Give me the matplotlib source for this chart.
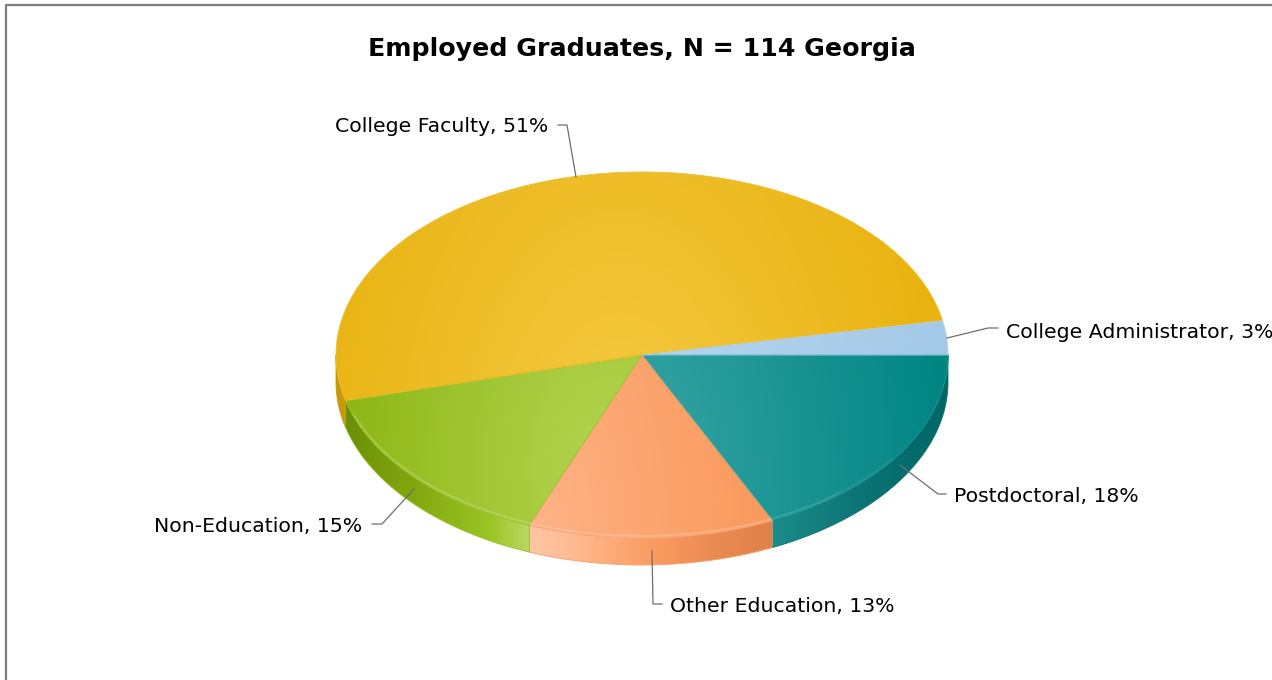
import numpy as np
import matplotlib
matplotlib.use("Agg")
import matplotlib.pyplot as plt
from matplotlib.colors import to_rgb
from matplotlib.patches import Polygon
from matplotlib.transforms import Affine2D

# Data, in drawing order (clockwise from 3 o'clock)
categories = ["Postdoctoral", "Other Education", "Non-Education", "College Faculty", "College Administrator"]
shares = [18, 13, 15, 51, 3]
title = "Employed Graduates, N = 114 Georgia"

# Top face colours: light (middle) and dark (rim)
light_colors = ["#3ba7a7", "#ffb68c", "#b4d552", "#f5ca44", "#b9d8f3"]
dark_colors = ["#008583", "#f9985a", "#84ae04", "#e8b20e", "#a4c9e8"]

# Gradient centre and reach for each top face (x, y, rx, ry in pixels)
gradients = [
    (610, 470, 340, 520),
    (500, 540, 280, 500),
    (610, 470, 340, 520),
    (620, 470, 340, 560),
    (610, 470, 340, 520),
]

# Side wall colour stops along x
wall_stops = [
    [(773, "#1c8c8a"), (860, "#0c7474"), (948, "#006666")],
    [(529, "#ffc6a2"), (565, "#ffbd96"), (650, "#fb9d62"), (700, "#ee8e56"), (773, "#de8048")],
    [(346, "#6b8f06"), (420, "#84aa10"), (490, "#9cc424"), (529, "#bad864")],
    [(337, "#c4960a"), (346, "#c99a0c")],
]

# Pie geometry in pixels
cx, cy = 642, 355
rx, ry = 306, 183
depth = 27

fig = plt.figure(figsize=(12.72, 6.8), dpi=100)
ax = fig.add_axes([0, 0, 1, 1])

wedges, _ = ax.pie(shares, startangle=0, counterclock=True, radius=1, center=(0, 0),
                   wedgeprops={"linewidth": 0})
ax.set_aspect("auto")
ax.set_xlim(0, 1272)
ax.set_ylim(680, 0)
ax.axis("off")

squash = Affine2D().scale(rx, ry).translate(cx, cy) + ax.transData
xx, yy = np.meshgrid(np.arange(1272) + 0.5, np.arange(680) + 0.5)

edges = np.cumsum([0] + shares) * 3.6


def arc(a, b):
    t = np.radians(np.linspace(a, b, 120))
    return cx + rx * np.cos(t), cy + ry * np.sin(t)


# side walls first
for i, stops in enumerate(wall_stops):
    a, b = edges[i], min(edges[i + 1], 180)
    x, y = arc(a, b)
    pts = np.r_[np.c_[x, y], np.c_[x[::-1], y[::-1] + depth]]
    xs = [s[0] for s in stops]
    cols = np.array([to_rgb(s[1]) for s in stops])
    img = np.dstack([np.interp(xx, xs, cols[:, k]) for k in range(3)])
    wall = Polygon(pts, closed=True, transform=ax.transData, fc="none", ec="none")
    ax.add_patch(wall)
    im = ax.imshow(img, extent=(0, 1272, 680, 0), aspect="auto", zorder=1)
    im.set_clip_path(wall)
    ax.add_patch(Polygon(pts, closed=True, fc="none", ec=cols[len(cols) // 2], lw=0.6, zorder=1.5))

# top faces
for w, lc, dc, g in zip(wedges, light_colors, dark_colors, gradients):
    w.set_transform(squash)
    lc, dc = np.array(to_rgb(lc)), np.array(to_rgb(dc))
    grad = np.clip(np.sqrt(((xx - g[0]) / g[2]) ** 2 + ((yy - g[1]) / g[3]) ** 2), 0, 1)
    img = lc + (dc - lc) * grad[..., None]
    w.set_facecolor("none")
    w.set_edgecolor(tuple((lc + dc) / 2))
    w.set_linewidth(0.6)
    w.set_zorder(3)
    im = ax.imshow(img, extent=(0, 1272, 680, 0), aspect="auto", zorder=2)
    im.set_clip_path(w)

ax.set_xlim(0, 1272)
ax.set_ylim(680, 0)

# thin highlight along the front rim, fading towards the right
for a, b, alpha in [(35, 50, 0.06), (50, 65, 0.12), (65, 160, 0.18)]:
    x, y = arc(a, b)
    ax.plot(x, y - 2, color="white", lw=1.5, alpha=alpha, zorder=4, solid_capstyle="butt")

# leader lines and labels
leaders = [
    [(900, 465), (938, 494), (946, 494)],
    [(652, 551), (653, 604), (662, 604)],
    [(414, 489), (382, 524), (372, 524)],
    [(576, 177), (567, 125), (558, 125)],
    [(947, 338), (988, 328), (998, 328)],
]
label_pos = [(954, 496, "left"), (670, 606, "left"), (362, 526, "right"),
             (548, 126, "right"), (1006, 332, "left")]
for cat, s, line, (lx, ly, ha) in zip(categories, shares, leaders, label_pos):
    px, py = zip(*line)
    ax.plot(px, py, color="#6e6e6e", lw=0.9, zorder=5)
    ax.text(lx, ly, f"{cat}, {s}%", ha=ha, va="center", fontsize=14.7, color="black",
            family="DejaVu Sans", zorder=6)

ax.text(642, 49, title, ha="center", va="center", fontsize=18.2, fontweight="bold",
        color="black", family="DejaVu Sans", zorder=6)

# outer frame, only top and left are visible
ax.plot([5.5, 5.5, 1272], [680, 5, 5], color="#7f7f7f", lw=1.6, zorder=6)

fig.savefig("out.png", dpi=100, facecolor="white")
